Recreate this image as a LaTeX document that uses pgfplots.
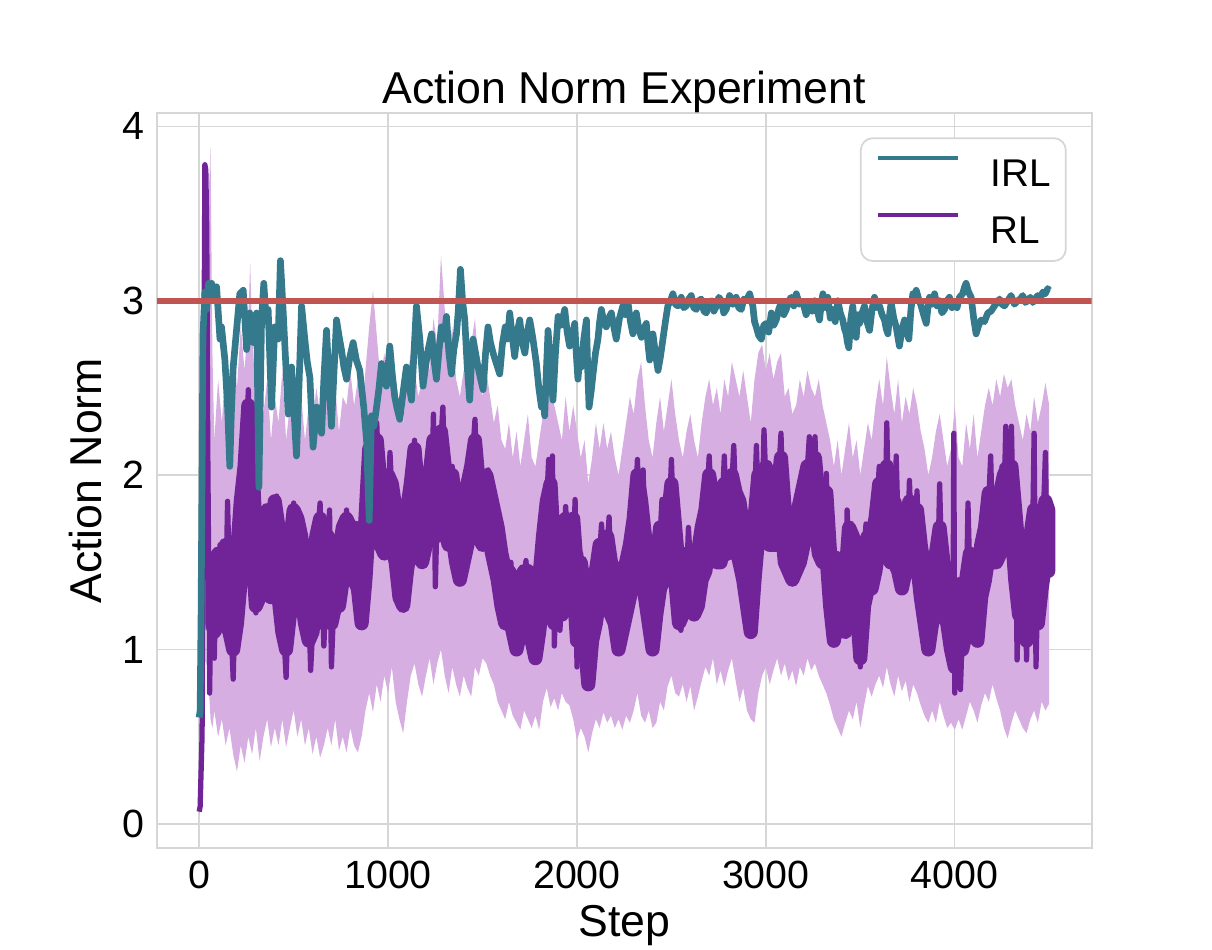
\documentclass[border=0pt]{standalone}
\usepackage{fontspec}
\setmainfont{Liberation Sans}
\usepackage{pgfplots}
\pgfplotsset{compat=1.18}
\usepackage{pgfplotstable}
\usepgfplotslibrary{fillbetween}

\definecolor{irlc}{RGB}{52,122,140}
\definecolor{rlc}{RGB}{112,36,152}
\definecolor{bandc}{RGB}{214,174,225}
\definecolor{redc}{RGB}{192,84,82}
\definecolor{gridc}{RGB}{214,214,214}

\pgfplotstableread{
x y
0 0.61
5 0.65
10 1.20
15 2.00
20 2.80
30 3.05
40 2.95
50 3.10
58 3.00
66 3.10
74 3.00
92 3.08
110 2.78
118 2.85
136 2.66
150 2.40
162 2.05
170 2.35
180 2.62
195 2.80
215 3.04
233 3.06
251 2.72
268 2.93
286 2.76
304 2.93
316 1.93
330 2.89
342 3.10
355 2.88
365 2.95
383 2.39
400 2.85
418 2.78
430 3.23
444 2.95
460 2.60
471 2.35
489 2.62
515 2.11
528 2.50
542 2.97
559 2.78
572 2.65
586 2.56
603 2.16
621 2.39
635 2.30
648 2.24
660 2.55
674 2.83
700 2.28
714 2.60
727 2.89
740 2.80
753 2.72
766 2.62
780 2.55
798 2.68
815 2.76
832 2.66
850 2.60
870 2.40
886 2.20
900 1.74
912 2.34
925 2.28
939 2.39
952 2.50
965 2.64
978 2.56
991 2.51
1009 2.74
1022 2.58
1035 2.45
1048 2.38
1062 2.32
1080 2.48
1097 2.62
1110 2.52
1124 2.43
1137 2.70
1150 2.97
1168 2.78
1185 2.51
1198 2.62
1212 2.72
1230 2.81
1243 2.66
1256 2.55
1270 2.72
1282 2.85
1296 2.78
1309 2.91
1322 2.70
1335 2.58
1348 2.72
1362 2.81
1372 2.95
1383 3.18
1394 3.00
1406 2.89
1419 2.62
1432 2.43
1440 2.62
1450 2.78
1463 2.70
1476 2.62
1490 2.55
1503 2.49
1516 2.70
1529 2.85
1542 2.76
1556 2.70
1573 2.64
1591 2.58
1605 2.75
1620 2.85
1632 2.78
1644 2.93
1657 2.80
1670 2.68
1684 2.82
1697 2.89
1710 2.76
1724 2.70
1737 2.82
1750 2.89
1767 2.78
1785 2.64
1798 2.50
1812 2.39
1820 2.45
1829 2.34
1838 2.60
1847 2.83
1860 2.60
1873 2.43
1886 2.70
1900 2.91
1917 2.86
1935 2.95
1948 2.82
1961 2.74
1975 2.80
1988 2.87
1996 2.70
2005 2.55
2014 2.66
2023 2.62
2036 2.78
2050 2.89
2057 2.60
2064 2.39
2075 2.48
2085 2.58
2098 2.70
2111 2.78
2120 2.88
2129 2.95
2142 2.88
2155 2.85
2168 2.90
2182 2.93
2195 2.85
2208 2.78
2225 2.90
2243 2.97
2256 2.92
2270 2.99
2283 2.88
2296 2.81
2305 2.88
2314 2.93
2327 2.84
2341 2.79
2354 2.84
2367 2.87
2376 2.75
2385 2.66
2393 2.74
2402 2.81
2415 2.70
2429 2.60
2442 2.68
2455 2.78
2468 2.88
2481 2.97
2495 3.00
2508 3.04
2521 2.98
2534 2.97
2552 3.02
2565 2.96
2579 2.97
2592 3.01
2605 3.03
2618 2.96
2632 2.95
2645 3.00
2658 3.01
2672 2.94
2685 2.93
2698 2.99
2711 3.00
2725 2.94
2738 2.97
2751 3.02
2764 3.00
2777 2.93
2790 2.95
2808 3.03
2825 2.98
2843 3.02
2856 2.96
2870 2.95
2883 3.01
2896 3.00
2914 3.04
2931 2.97
2940 2.88
2949 2.85
2962 2.80
2976 2.78
2989 2.86
3002 2.87
3015 2.82
3029 2.93
3042 2.86
3055 2.89
3068 2.95
3081 2.99
3095 2.92
3108 2.95
3121 3.00
3134 3.02
3148 2.97
3161 3.04
3178 2.98
3196 2.99
3213 2.92
3231 2.97
3245 2.94
3258 3.00
3271 2.95
3284 2.89
3293 2.98
3302 3.04
3315 2.96
3328 3.02
3341 2.90
3354 2.95
3367 2.88
3381 3.00
3394 2.93
3407 2.89
3416 2.84
3425 2.81
3432 2.76
3439 2.73
3450 2.90
3460 2.97
3469 2.85
3478 2.79
3487 2.92
3496 2.87
3509 2.93
3522 2.97
3535 2.88
3549 2.83
3562 2.95
3575 3.02
3588 2.96
3602 2.97
3615 2.92
3628 2.89
3637 2.84
3646 2.81
3655 2.92
3663 2.99
3677 2.90
3690 2.85
3699 2.79
3707 2.74
3720 2.83
3734 2.89
3745 2.82
3757 2.78
3768 2.95
3778 3.04
3787 3.00
3796 3.06
3809 3.01
3822 2.97
3835 2.92
3849 2.87
3857 2.95
3866 3.02
3880 2.98
3893 3.04
3906 2.97
3919 3.00
3932 2.93
3946 2.95
3959 3.00
3972 3.02
3985 2.96
3998 2.99
4012 2.96
4025 3.02
4042 3.04
4052 3.08
4060 3.10
4073 3.05
4087 3.02
4100 2.90
4113 2.81
4127 2.86
4140 2.89
4157 2.88
4175 2.93
4192 2.94
4210 2.97
4224 2.99
4237 3.01
4250 2.98
4263 2.97
4281 3.00
4298 3.03
4316 2.98
4333 3.00
4347 3.01
4360 3.03
4373 2.99
4386 3.00
4400 3.02
4413 2.99
4426 3.01
4439 3.03
4452 3.01
4466 3.05
4479 3.04
4492 3.07
4500 3.06
}\irldata

\pgfplotstableread{
x y
0 0.07
5 0.10
10 0.30
15 0.50
20 1.20
25 2.60
30 3.78
35 3.75
40 3.40
45 2.20
50 1.50
55 0.75
60 1.10
70 1.45
80 0.95
90 1.55
100 1.25
110 1.60
120 1.30
130 1.55
140 1.20
150 1.85
160 1.40
170 1.10
180 0.83
190 1.30
200 1.15
210 1.60
220 1.75
230 2.00
240 1.85
250 2.15
260 2.49
270 2.10
280 1.90
290 1.55
300 1.21
310 1.50
320 1.35
330 1.65
340 1.45
350 1.80
360 1.55
370 1.70
380 1.30
390 1.60
400 1.75
410 1.88
420 1.55
430 1.43
440 1.20
450 1.05
460 0.84
470 1.15
480 1.45
490 1.70
500 1.84
510 1.60
520 1.75
530 1.45
540 1.60
550 1.44
560 1.30
570 1.15
580 1.25
590 0.88
600 1.10
610 1.35
620 1.55
630 1.70
640 1.84
650 1.40
660 1.02
670 1.30
680 1.55
690 1.80
700 0.90
710 1.20
720 1.45
730 1.35
740 1.28
750 1.50
760 1.65
770 1.55
780 1.80
790 1.60
800 1.45
810 1.65
820 1.50
830 1.72
840 1.55
850 1.35
860 1.13
870 1.40
880 1.70
890 1.95
900 2.26
910 1.90
920 1.75
930 2.05
940 2.30
950 2.00
960 1.80
970 1.59
980 1.75
990 1.95
1000 1.80
1010 2.13
1020 1.90
1030 1.70
1040 1.74
1050 1.55
1060 1.40
1070 1.50
1080 1.25
1090 1.55
1100 1.75
1110 1.60
1120 1.90
1130 1.85
1140 2.20
1150 1.95
1160 1.75
1170 1.59
1180 1.80
1190 1.65
1200 1.95
1210 1.75
1220 2.05
1230 1.85
1240 2.35
1250 1.36
1260 1.80
1270 2.00
1280 2.20
1290 2.39
1300 2.00
1310 1.85
1320 1.70
1330 1.90
1340 2.05
1350 1.75
1360 1.60
1370 1.80
1380 1.43
1390 1.70
1400 1.85
1410 1.65
1420 1.90
1430 2.05
1440 1.85
1450 2.15
1460 2.32
1470 2.00
1480 1.85
1490 1.95
1500 1.78
1510 1.95
1520 1.80
1530 2.03
1540 1.85
1550 1.70
1560 1.80
1570 1.60
1580 1.70
1590 1.48
1600 1.55
1610 1.35
1620 1.21
1630 1.45
1640 1.30
1650 1.50
1660 1.20
1670 1.35
1680 1.06
1690 1.30
1700 1.45
1710 1.25
1720 1.40
1730 1.51
1740 1.30
1750 1.45
1760 1.20
1770 1.35
1780 1.10
1790 0.94
1800 1.25
1810 1.45
1820 1.65
1830 1.50
1840 1.85
1850 2.09
1860 1.70
1870 2.11
1880 1.02
1890 1.40
1900 1.60
1910 1.11
1920 1.40
1930 1.55
1940 1.82
1950 1.60
1960 1.43
1970 1.65
1980 1.50
1990 1.86
2000 0.90
2010 1.30
2020 1.55
2030 1.35
2040 1.20
2050 1.00
2060 0.79
2070 1.10
2080 1.35
2090 1.20
2100 1.49
2110 1.30
2120 1.55
2130 1.72
2140 1.45
2150 1.30
2160 1.60
2170 1.76
2180 1.40
2190 1.25
2200 1.45
2210 1.30
2220 1.15
2230 1.06
2240 1.35
2250 1.50
2260 1.30
2270 1.60
2280 1.45
2290 1.75
2300 1.55
2310 1.85
2320 2.09
2330 1.70
2340 1.55
2350 2.03
2360 1.60
2370 1.40
2380 1.25
2390 1.45
2400 0.98
2410 1.30
2420 1.50
2430 1.35
2440 1.65
2450 1.86
2460 1.55
2470 1.70
2480 1.50
2490 1.80
2500 2.09
2510 1.75
2520 1.60
2530 1.45
2540 1.30
2550 1.11
2560 1.40
2570 1.55
2580 1.40
2590 1.70
2600 1.50
2610 1.35
2620 1.50
2630 1.21
2640 1.45
2650 1.65
2660 1.55
2670 1.80
2680 1.60
2690 1.90
2700 2.11
2710 1.85
2720 1.70
2730 1.90
2740 1.65
2750 1.80
2760 1.55
2770 1.85
2780 2.11
2790 1.75
2800 1.90
2810 1.60
2820 1.95
2830 2.17
2840 1.85
2850 1.70
2860 1.90
2870 1.55
2880 1.75
2890 1.45
2900 1.60
2910 1.30
2920 1.11
2930 1.50
2940 1.85
2950 2.17
2960 1.80
2970 1.95
2980 1.75
2990 2.26
3000 1.95
3010 1.80
3020 1.74
3030 1.95
3040 1.70
3050 1.90
3060 1.75
3070 2.05
3080 2.24
3090 1.85
3100 1.70
3110 1.61
3120 1.80
3130 1.55
3140 1.70
3150 1.53
3160 1.75
3170 1.60
3180 1.85
3190 1.70
3200 1.95
3210 1.80
3220 2.05
3230 2.22
3240 1.90
3250 2.05
3260 2.22
3270 1.85
3280 1.70
3290 1.90
3300 1.65
3310 1.85
3320 2.01
3330 1.60
3340 1.45
3350 1.30
3360 1.13
3370 1.40
3380 1.55
3390 1.35
3400 1.50
3410 1.30
3420 1.09
3430 1.80
3440 1.55
3450 1.70
3460 1.50
3470 1.65
3480 1.40
3490 1.32
3500 0.90
3510 1.35
3520 1.55
3530 1.72
3540 1.50
3550 1.65
3560 1.45
3570 1.70
3580 1.55
3590 1.85
3600 2.05
3610 1.70
3620 1.85
3630 1.60
3640 2.30
3650 1.75
3660 1.60
3670 1.80
3680 1.55
3690 2.11
3700 1.70
3710 1.44
3720 1.65
3730 1.50
3740 1.75
3750 1.60
3760 1.97
3770 1.65
3780 1.80
3790 1.55
3800 1.91
3810 1.60
3820 1.40
3830 1.55
3840 1.30
3850 1.20
3860 1.04
3870 1.35
3880 1.50
3890 1.30
3900 1.59
3910 1.45
3920 1.95
3930 1.50
3940 1.35
3950 1.55
3960 1.25
3970 1.45
3980 1.15
3990 1.00
3995 2.24
4000 0.75
4010 1.20
4020 1.40
4030 0.77
4040 1.10
4050 1.35
4060 1.20
4070 1.84
4080 1.40
4090 1.55
4100 1.30
4110 1.45
4120 1.13
4130 1.40
4140 1.60
4150 1.45
4160 1.75
4170 1.55
4180 1.85
4190 2.11
4200 1.70
4210 1.85
4220 1.60
4230 1.90
4240 1.75
4250 2.05
4260 1.80
4270 2.28
4280 1.90
4290 1.75
4300 2.28
4310 1.70
4320 1.85
4330 0.94
4340 1.40
4350 1.60
4360 1.35
4370 1.55
4380 0.94
4390 1.45
4400 1.70
4410 1.50
4420 2.24
4430 0.90
4440 1.40
4450 1.65
4460 1.50
4470 1.80
4480 2.13
4490 1.45
4500 1.85
}\rldata

\pgfplotstableread{
x up lo
70 1.50 1.15
80 1.50 1.10
100 1.55 1.15
120 1.50 1.20
140 1.60 1.15
160 1.55 1.10
180 1.45 1.00
200 1.55 1.15
220 1.85 1.40
240 2.05 1.60
260 2.40 1.90
280 2.10 1.60
300 1.65 1.25
320 1.60 1.30
340 1.75 1.35
360 1.80 1.40
380 1.65 1.30
400 1.85 1.45
420 1.70 1.30
440 1.45 1.10
460 1.35 1.00
480 1.60 1.20
500 1.80 1.40
520 1.75 1.40
540 1.65 1.30
560 1.45 1.15
580 1.35 1.05
600 1.45 1.10
620 1.65 1.30
640 1.75 1.40
660 1.50 1.15
680 1.65 1.30
700 1.55 1.15
720 1.55 1.25
740 1.55 1.25
760 1.70 1.40
780 1.75 1.45
800 1.70 1.40
820 1.70 1.40
840 1.65 1.35
860 1.45 1.15
880 1.75 1.40
900 2.15 1.75
920 2.05 1.70
940 2.20 1.80
960 1.95 1.60
980 1.90 1.55
1000 2.00 1.65
1020 1.95 1.60
1040 1.80 1.50
1060 1.60 1.30
1080 1.55 1.25
1100 1.80 1.45
1120 1.95 1.60
1140 2.15 1.80
1160 1.90 1.55
1180 1.80 1.50
1200 1.95 1.60
1220 2.00 1.65
1240 2.20 1.70
1260 2.00 1.65
1280 2.25 1.85
1300 2.05 1.70
1320 1.90 1.60
1340 2.00 1.65
1360 1.80 1.50
1380 1.70 1.40
1400 1.85 1.50
1420 1.95 1.60
1440 2.05 1.70
1460 2.20 1.80
1480 1.95 1.65
1500 1.95 1.60
1520 2.00 1.65
1540 1.90 1.60
1560 1.80 1.50
1580 1.70 1.40
1600 1.55 1.25
1620 1.45 1.15
1640 1.45 1.20
1660 1.40 1.10
1680 1.30 1.00
1700 1.40 1.10
1720 1.45 1.15
1740 1.45 1.15
1760 1.35 1.05
1780 1.25 0.95
1800 1.40 1.10
1820 1.65 1.30
1840 1.85 1.50
1860 1.95 1.55
1880 1.55 1.15
1900 1.55 1.20
1920 1.55 1.20
1940 1.75 1.40
1960 1.60 1.30
1980 1.75 1.40
2000 1.45 1.05
2020 1.50 1.15
2040 1.35 1.05
2060 1.10 0.80
2080 1.35 1.05
2100 1.45 1.15
2120 1.60 1.30
2140 1.60 1.25
2160 1.65 1.30
2180 1.50 1.20
2200 1.45 1.15
2220 1.30 1.00
2240 1.40 1.10
2260 1.50 1.20
2280 1.60 1.30
2300 1.75 1.40
2320 2.00 1.60
2340 1.85 1.50
2360 1.65 1.30
2380 1.45 1.15
2400 1.35 1.00
2420 1.50 1.20
2440 1.70 1.35
2460 1.70 1.40
2480 1.75 1.40
2500 1.95 1.60
2520 1.70 1.40
2540 1.45 1.15
2560 1.50 1.20
2580 1.55 1.25
2600 1.55 1.25
2620 1.50 1.20
2640 1.55 1.25
2660 1.70 1.40
2680 1.80 1.45
2700 2.00 1.65
2720 1.85 1.55
2740 1.80 1.50
2760 1.80 1.50
2780 1.95 1.60
2800 1.85 1.55
2820 2.00 1.65
2840 1.90 1.60
2860 1.85 1.50
2880 1.70 1.40
2900 1.60 1.25
2920 1.40 1.10
2940 1.75 1.40
2960 2.00 1.65
2980 2.00 1.65
3000 2.05 1.70
3020 1.90 1.60
3040 1.90 1.60
3060 1.90 1.60
3080 2.10 1.75
3100 1.80 1.50
3120 1.75 1.45
3140 1.70 1.40
3160 1.75 1.45
3180 1.85 1.50
3200 1.95 1.60
3220 2.05 1.70
3240 2.05 1.75
3260 2.10 1.75
3280 1.85 1.55
3300 1.85 1.50
3320 1.90 1.55
3340 1.55 1.25
3360 1.35 1.05
3380 1.50 1.20
3400 1.45 1.15
3420 1.40 1.10
3440 1.70 1.35
3460 1.65 1.35
3480 1.55 1.25
3500 1.30 0.95
3520 1.60 1.25
3540 1.65 1.35
3560 1.65 1.35
3580 1.75 1.45
3600 1.95 1.60
3620 1.85 1.55
3640 2.05 1.70
3660 1.80 1.50
3680 1.85 1.50
3700 1.75 1.45
3720 1.65 1.35
3740 1.75 1.45
3760 1.85 1.55
3780 1.80 1.50
3800 1.80 1.50
3820 1.60 1.30
3840 1.45 1.15
3860 1.30 1.00
3880 1.45 1.15
3900 1.55 1.25
3920 1.70 1.35
3940 1.50 1.20
3960 1.45 1.15
3980 1.30 1.00
4000 1.25 0.90
4020 1.35 1.00
4040 1.30 1.00
4060 1.40 1.10
4080 1.55 1.25
4100 1.45 1.15
4120 1.35 1.05
4140 1.60 1.30
4160 1.70 1.40
4180 1.90 1.55
4200 1.85 1.50
4220 1.85 1.50
4240 1.90 1.55
4260 2.00 1.65
4280 2.05 1.70
4300 2.05 1.70
4320 1.80 1.40
4340 1.55 1.20
4360 1.55 1.20
4380 1.40 1.05
4400 1.65 1.30
4420 1.80 1.40
4440 1.55 1.15
4460 1.70 1.35
4480 1.85 1.50
4495 1.80 1.45
}\dkband

\pgfplotstableread{
x y
0 0.12
10 0.60
20 2.00
30 3.80
40 3.75
50 3.60
60 3.88
70 2.70
80 2.20
100 2.55
120 2.30
140 2.65
160 2.40
180 2.75
200 2.50
220 2.85
240 2.60
260 2.90
270 3.22
280 2.80
300 2.45
320 2.65
340 2.35
360 2.55
380 2.20
400 2.45
420 2.30
440 2.60
460 2.20
480 2.40
500 2.55
520 2.30
540 2.45
560 2.20
580 2.40
600 2.30
620 2.50
640 2.35
660 2.70
680 2.55
700 2.35
720 2.50
740 2.25
760 2.45
780 2.40
800 2.60
820 2.40
840 2.55
860 2.30
880 2.60
900 2.85
920 3.06
940 2.80
960 2.55
980 2.70
1000 2.50
1020 2.75
1040 2.55
1060 2.40
1080 2.30
1100 2.55
1120 2.70
1140 2.60
1160 2.45
1180 2.55
1200 2.70
1220 2.60
1240 2.90
1260 2.75
1280 3.26
1300 2.95
1320 2.70
1340 2.85
1360 2.55
1380 2.45
1400 2.60
1420 2.50
1440 2.75
1460 2.90
1480 2.60
1500 2.45
1520 2.60
1540 2.45
1560 2.30
1580 2.40
1600 2.20
1620 2.15
1640 2.30
1660 2.10
1680 2.25
1700 2.05
1720 2.20
1740 2.35
1760 2.10
1780 2.05
1800 2.20
1820 2.35
1840 2.50
1860 2.65
1880 2.40
1900 2.30
1920 2.20
1940 2.45
1960 2.25
1980 2.40
2000 2.25
2020 2.10
2040 2.20
2060 1.95
2080 2.10
2100 2.30
2120 2.15
2140 2.30
2160 2.15
2180 2.25
2200 2.10
2220 2.00
2240 2.15
2260 2.30
2280 2.45
2300 2.35
2320 2.55
2340 2.65
2360 2.40
2380 2.20
2400 2.10
2420 2.30
2440 2.45
2460 2.25
2480 2.40
2500 2.55
2520 2.35
2540 2.20
2560 2.10
2580 2.25
2600 2.35
2620 2.20
2640 2.10
2660 2.30
2680 2.45
2700 2.55
2720 2.40
2740 2.50
2760 2.35
2780 2.55
2800 2.45
2820 2.65
2840 2.55
2860 2.45
2880 2.60
2900 2.45
2920 2.30
2940 2.55
2960 2.70
2980 2.75
3000 2.60
3020 2.70
3040 2.55
3060 2.65
3080 2.70
3100 2.45
3120 2.50
3140 2.35
3160 2.40
3180 2.55
3200 2.45
3220 2.60
3240 2.50
3260 2.45
3280 2.55
3300 2.40
3320 2.30
3340 2.20
3360 2.05
3380 2.20
3400 2.00
3420 2.15
3440 2.30
3460 2.10
3480 2.20
3500 2.00
3520 2.15
3540 2.30
3560 2.20
3580 2.40
3600 2.55
3620 2.40
3640 2.68
3660 2.50
3680 2.35
3700 2.55
3720 2.30
3740 2.45
3760 2.35
3780 2.50
3800 2.40
3820 2.25
3840 2.15
3860 2.00
3880 2.10
3900 2.25
3920 2.35
3940 2.20
3960 2.05
3980 2.15
4000 2.40
4020 2.10
4040 2.05
4060 2.30
4080 2.15
4100 2.35
4120 2.10
4140 2.25
4160 2.40
4180 2.50
4200 2.40
4220 2.55
4240 2.45
4260 2.58
4280 2.50
4300 2.55
4320 2.40
4340 2.30
4360 2.20
4380 2.35
4400 2.25
4420 2.45
4440 2.30
4460 2.40
4480 2.53
4500 2.40
}\rlup

\pgfplotstableread{
x y
0 0.05
10 0.10
20 0.40
30 1.50
40 1.20
50 0.80
60 0.60
70 0.55
80 0.65
100 0.50
120 0.60
140 0.45
160 0.55
180 0.40
200 0.30
220 0.45
240 0.35
260 0.50
280 0.40
300 0.55
320 0.36
340 0.50
360 0.60
380 0.44
400 0.55
420 0.45
440 0.60
460 0.44
480 0.55
500 0.65
520 0.50
540 0.60
560 0.45
580 0.55
600 0.40
620 0.50
640 0.38
660 0.45
680 0.55
700 0.45
720 0.60
740 0.42
760 0.50
780 0.41
800 0.55
820 0.45
840 0.41
860 0.50
880 0.65
900 0.75
920 0.64
940 0.80
960 0.70
980 0.85
1000 0.75
1020 0.90
1040 0.70
1060 0.60
1080 0.52
1100 0.70
1120 0.85
1140 0.92
1160 0.80
1180 0.73
1200 0.85
1220 0.95
1240 0.80
1260 0.92
1280 1.00
1300 0.85
1320 0.75
1340 0.90
1360 0.80
1380 0.73
1400 0.85
1420 0.78
1440 0.73
1460 0.90
1480 0.85
1500 0.95
1520 0.92
1540 0.85
1560 0.80
1580 0.70
1600 0.65
1620 0.60
1640 0.70
1660 0.62
1680 0.58
1700 0.54
1720 0.65
1740 0.60
1760 0.55
1780 0.62
1800 0.54
1820 0.70
1840 0.78
1860 0.67
1880 0.72
1900 0.65
1920 0.75
1940 0.70
1960 0.68
1980 0.60
2000 0.48
2020 0.55
2040 0.50
2060 0.41
2080 0.52
2100 0.60
2120 0.55
2140 0.64
2160 0.58
2180 0.62
2200 0.55
2220 0.60
2240 0.54
2260 0.62
2280 0.58
2300 0.65
2320 0.75
2340 0.62
2360 0.58
2380 0.65
2400 0.55
2420 0.58
2440 0.70
2460 0.65
2480 0.79
2500 0.85
2520 0.75
2540 0.73
2560 0.80
2580 0.70
2600 0.79
2620 0.65
2640 0.73
2660 0.82
2680 0.90
2700 0.85
2720 0.95
2740 0.80
2760 0.88
2780 0.79
2800 0.88
2820 0.95
2840 0.82
2860 0.70
2880 0.78
2900 0.65
2920 0.60
2940 0.58
2960 0.75
2980 0.85
3000 0.90
3020 0.80
3040 0.88
3060 0.95
3080 0.85
3100 0.92
3120 0.82
3140 0.88
3160 0.79
3180 0.90
3200 0.85
3220 0.95
3240 0.88
3260 0.92
3280 0.85
3300 0.80
3320 0.75
3340 0.68
3360 0.60
3380 0.55
3400 0.50
3420 0.58
3440 0.65
3460 0.60
3480 0.70
3500 0.55
3520 0.68
3540 0.79
3560 0.73
3580 0.80
3600 0.85
3620 0.78
3640 0.90
3660 0.80
3680 0.73
3700 0.85
3720 0.76
3740 0.82
3760 0.70
3780 0.80
3800 0.75
3820 0.68
3840 0.62
3860 0.58
3880 0.65
3900 0.58
3920 0.70
3940 0.62
3960 0.55
3980 0.58
4000 0.54
4020 0.60
4040 0.54
4060 0.62
4080 0.70
4100 0.65
4120 0.58
4140 0.68
4160 0.75
4180 0.70
4200 0.80
4220 0.72
4240 0.65
4260 0.55
4280 0.49
4300 0.58
4320 0.65
4340 0.60
4360 0.55
4380 0.52
4400 0.60
4420 0.65
4440 0.58
4460 0.70
4480 0.65
4500 0.69
}\rllo

\begin{document}
\begin{tikzpicture}
\path (0,0) rectangle (121.2mm,95mm);
\begin{axis}[
  at={(15.67mm,10.17mm)}, anchor=south west,
  scale only axis, width=93.5mm, height=73.5mm,
  xmin=-225, xmax=4725, ymin=-0.14, ymax=4.075,
  xtick={0,1000,2000,3000,4000}, ytick={0,1,2,3,4},
  scaled x ticks=false, scaled y ticks=false,
  /pgf/number format/1000 sep={},
  /pgf/number format/assume math mode=true,
  ticklabel style={font=\fontsize{11.2}{13}\selectfont},
  major tick length=0pt,
  grid=major,
  grid style={gridc, line width=0.4pt},
  axis line style={gridc, line width=0.5pt},
  title={Action Norm Experiment},
  title style={at={(0.5,1)}, anchor=south, inner sep=0pt, yshift=-6pt, font=\fontsize{12.7}{15}\selectfont},
  xlabel={Step},
  xlabel style={at={(axis description cs:0.5,0)}, anchor=north, inner sep=0pt, yshift=-5.6mm, font=\fontsize{12.7}{15}\selectfont},
  ylabel={Action Norm},
  every axis y label/.style={at={(axis description cs:0,0.5)}, rotate=90, anchor=south, inner sep=0pt, yshift=5.4mm, font=\fontsize{12.7}{15}\selectfont},
  reverse legend,
  legend style={at={(1,1)}, anchor=north east, xshift=-2.5mm, yshift=-2.4mm,
    draw=gridc, rounded corners=1.2mm, line width=0.5pt,
    inner xsep=1.5mm, inner ysep=1.8mm,
    font=\fontsize{11}{13}\selectfont,
    nodes={inner sep=0pt, text height=2.8mm, text depth=0pt},
    row sep=2.7mm,
    /tikz/every odd column/.append style={column sep=3.1mm}},
  legend cell align=left,
  legend image code/.code={\draw[#1, line width=1.1pt] (0mm,1.4mm) -- (8mm,1.4mm);},
]
\addplot[draw=none, name path=up, forget plot] table {\rlup};
\addplot[draw=none, name path=lo, forget plot] table {\rllo};
\addplot[bandc, forget plot] fill between[of=up and lo];
\addplot[draw=none, name path=dup, forget plot] table[x=x, y=up] {\dkband};
\addplot[draw=none, name path=dlo, forget plot] table[x=x, y=lo] {\dkband};
\addplot[fill=rlc, draw=rlc, line width=4pt, line join=round, forget plot] fill between[of=dup and dlo];
\addplot[rlc, line width=1.5pt, line join=round] table {\rldata};
\addlegendentry{RL}
\addplot[irlc, line width=1.9pt, line join=round] table {\irldata};
\addlegendentry{IRL}
\addplot[redc, line width=1.7pt, forget plot] coordinates {(-225,3) (4725,3)};
\end{axis}
\end{tikzpicture}
\end{document}
